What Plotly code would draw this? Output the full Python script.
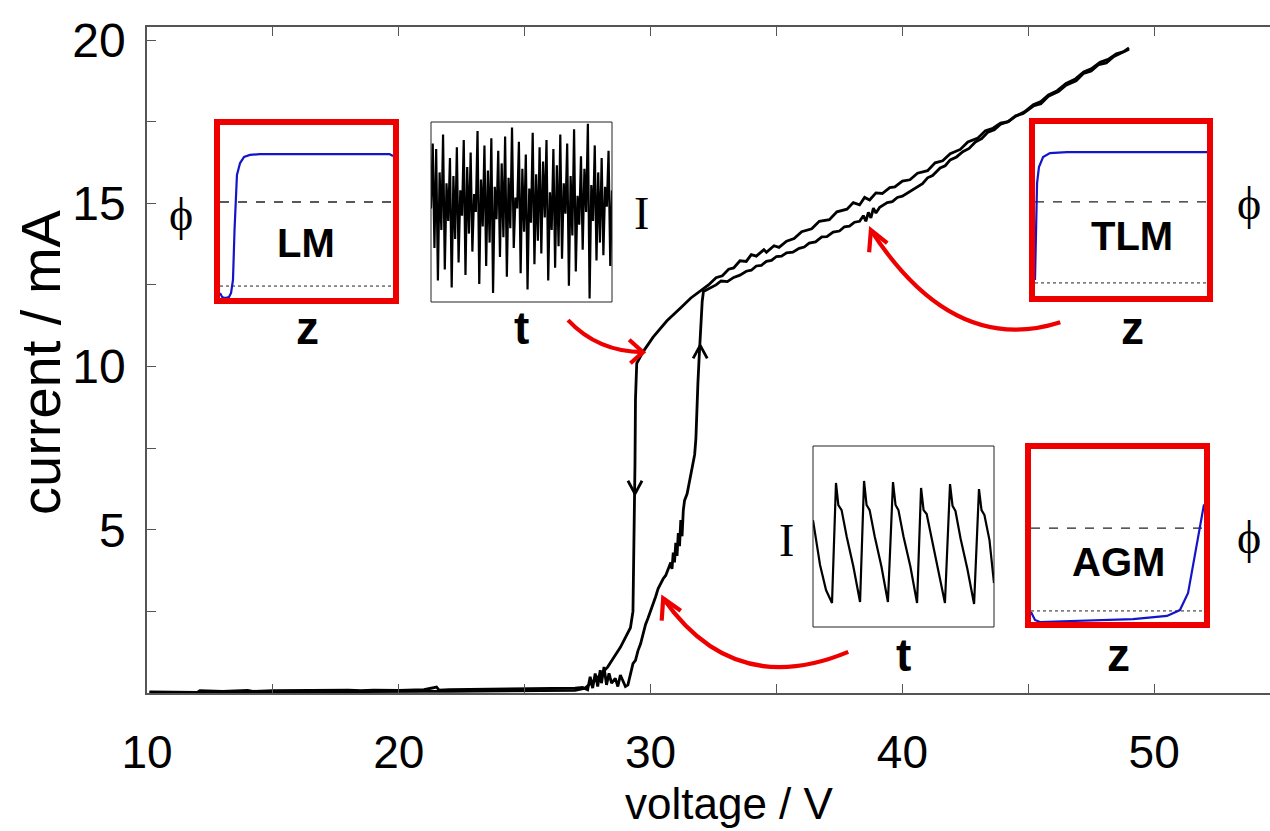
import plotly.graph_objects as go

# ---------------- main I-V data (voltage / V, current / mA) ----------------
# up sweep (lower-right branch)
V_up = [10.1, 11.0, 12.0, 12.1, 13.0, 14.0, 14.2, 15.0, 16.0, 17.0, 18.0, 18.5, 19.0, 20.0,
        21.0, 21.5, 21.6, 22.0, 23.0, 24.0, 25.0, 26.0, 27.0, 27.3,
        27.5, 27.6, 27.7, 27.8, 27.9, 28.0, 28.05, 28.15, 28.25, 28.35, 28.45, 28.6, 28.7,
        28.8, 28.9, 29.0, 29.1, 29.2, 29.3, 29.4, 29.5, 29.6, 29.7, 29.8, 29.9, 30.0,
        30.1, 30.2, 30.3, 30.4, 30.5, 30.6, 30.7, 30.8, 30.85, 30.9, 30.95, 31.0, 31.05,
        31.1, 31.15, 31.2, 31.25, 31.3, 31.35, 31.45, 31.55, 31.65, 31.75, 31.8, 31.83,
        31.88, 31.93, 31.97, 32.0, 32.05, 32.1,
        32.4, 32.6, 32.8, 33.05, 33.3, 33.55, 33.8, 34.0, 34.2, 34.4, 34.6, 34.8, 35.0, 35.2,
        35.4, 35.65, 35.9, 36.1, 36.3, 36.55, 36.8, 37.0, 37.25, 37.5, 37.7, 37.9, 38.1, 38.3,
        38.45, 38.55, 38.65, 38.75, 38.85, 38.95, 39.1, 39.4, 39.6, 39.8, 40.0, 40.2, 40.4,
        40.6, 40.8, 41.0, 41.2, 41.5, 41.7, 41.9, 42.15, 42.4, 42.65, 42.9, 43.15, 43.4, 43.65,
        43.9, 44.2, 44.5, 44.85, 45.2, 45.5, 45.8, 46.15, 46.5, 46.85, 47.2, 47.5, 47.85, 48.2,
        48.5, 48.8, 49.0]
I_up = [0.03, 0.03, 0.02, 0.07, 0.05, 0.08, 0.05, 0.07, 0.08, 0.07, 0.09, 0.07, 0.09, 0.08,
        0.1, 0.18, 0.09, 0.1, 0.11, 0.11, 0.12, 0.13, 0.15, 0.17,
        0.1, 0.5, 0.15, 0.6, 0.2, 0.7, 0.3, 0.8, 0.25, 0.6, 0.3, 0.45, 0.2,
        0.55, 0.35, 0.2, 0.25, 0.6, 0.9, 1.0, 1.3, 1.5, 1.8, 2.1, 2.3, 2.5,
        2.7, 2.95, 3.2, 3.35, 3.5, 3.6, 3.8, 4.0, 3.8, 4.3, 4.0, 4.6, 4.2,
        4.9, 4.5, 5.3, 4.8, 5.6, 5.9, 6.1, 6.5, 6.9, 7.3, 7.8, 8.6,
        9.5, 10.3, 10.9, 11.4, 12.0, 12.3,
        12.42, 12.5, 12.62, 12.6, 12.73, 12.8, 12.92, 12.95, 13.08, 13.1, 13.22, 13.25, 13.37, 13.38,
        13.48, 13.5, 13.62, 13.66, 13.78, 13.82, 13.97, 13.98, 14.12, 14.15, 14.28, 14.3, 14.42, 14.45,
        14.62, 14.45, 14.72, 14.55, 14.85, 14.7, 14.88, 15.02, 15.05, 15.18, 15.22, 15.32, 15.4,
        15.52, 15.6, 15.78, 15.85, 16.08, 16.15, 16.33, 16.42, 16.58, 16.68, 16.88, 16.98, 17.18, 17.25,
        17.42, 17.5, 17.67, 17.8, 18.02, 18.12, 18.32, 18.45, 18.67, 18.8, 19.02, 19.12, 19.32, 19.42,
        19.58, 19.65, 19.76]

# down sweep (upper-left branch)
V_down = [49.0, 48.7, 48.4, 48.1, 47.8, 47.5, 47.2, 46.9, 46.5, 46.2, 45.8, 45.5, 45.2, 44.8,
          44.5, 44.2, 43.9, 43.6, 43.3, 43.0, 42.6, 42.3, 41.9, 41.6, 41.3, 41.0, 40.6, 40.3,
          40.0, 39.7, 39.5, 39.2, 38.95, 38.7, 38.5, 38.3, 38.05, 37.8, 37.4, 37.1, 36.7, 36.4,
          36.0, 35.7, 35.4, 35.1, 34.9, 34.6, 34.5, 34.2, 34.0, 33.8, 33.55, 33.3, 33.1, 32.85,
          32.6, 32.3, 32.05, 31.6, 31.2, 30.65, 30.1, 29.7, 29.45, 29.4, 29.38,
          29.35, 29.33, 29.3, 29.2, 29.0, 28.8, 28.55, 28.3, 28.0, 27.7, 27.4, 27.0,
          26.0, 25.0, 24.0, 23.0, 22.0, 21.0, 20.0, 19.0, 18.0, 17.0, 16.0, 15.0, 14.0,
          13.0, 12.0, 11.0, 10.1]
I_down = [19.72, 19.6, 19.5, 19.3, 19.25, 19.05, 18.98, 18.75, 18.62, 18.42, 18.28, 18.05, 17.98, 17.75,
          17.68, 17.5, 17.46, 17.3, 17.22, 17.0, 16.88, 16.65, 16.52, 16.3, 16.24, 16.0, 15.92, 15.72,
          15.68, 15.5, 15.48, 15.3, 15.32, 15.1, 15.18, 14.95, 15.02, 14.82, 14.74, 14.5, 14.45, 14.22,
          14.13, 13.92, 13.84, 13.65, 13.7, 13.5, 13.58, 13.38, 13.43, 13.22, 13.24, 13.02, 12.98, 12.78,
          12.72, 12.5, 12.35, 12.1, 11.8, 11.4, 10.9, 10.45, 10.1, 9.0, 7.0,
          5.0, 3.0, 2.5, 2.0, 1.7, 1.4, 1.1, 0.8, 0.55, 0.35, 0.15, 0.08,
          0.07, 0.07, 0.06, 0.06, 0.05, 0.05, 0.05, 0.04, 0.04, 0.04, 0.03, 0.03, 0.03,
          0.02, 0.02, 0.02, 0.02]

# direction chevrons on the hysteresis branches (data coords)
down_chevron_V = [29.1, 29.38, 29.66]
down_chevron_I = [6.5, 6.1, 6.5]
up_chevron_V = [31.69, 31.97, 32.25]
up_chevron_I = [10.25, 10.65, 10.25]

# red pointer arrows: start, control, tip and head arm ends (data coords)
red_arrows = [
    dict(start=(26.72, 11.42), ctrl=(27.9, 10.45), tip=(29.7, 10.44), arm1=(29.15, 10.82), arm2=(29.2, 10.1)),
    dict(start=(46.27, 11.36), ctrl=(42.0, 10.3), tip=(38.75, 14.18), arm1=(38.68, 13.5), arm2=(39.4, 13.78)),
    dict(start=(37.85, 1.26), ctrl=(33.3, -0.2), tip=(30.5, 2.9), arm1=(30.44, 2.22), arm2=(31.2, 2.52)),
]

# ---------------- inset data (normalised inset units) ----------------
LM_z = [0.0, 0.012, 0.029, 0.052, 0.064, 0.075, 0.084, 0.09, 0.098, 0.116, 0.139, 0.173, 0.231, 0.462, 0.98, 1.0]
LM_phi = [0.029, 0.006, 0.0, 0.006, 0.029, 0.104, 0.393, 0.566, 0.711, 0.78, 0.815, 0.827, 0.832, 0.832, 0.832, 0.82]
LM_dash, LM_dot = 0.555, 0.069

TLM_z = [0.0, 0.006, 0.012, 0.023, 0.047, 0.087, 0.186, 1.0]
TLM_phi = [0.093, 0.366, 0.657, 0.75, 0.808, 0.831, 0.837, 0.837]
TLM_dash, TLM_dot = 0.547, 0.076

AGM_z = [0.0, 0.023, 0.052, 0.208, 0.59, 0.786, 0.861, 0.908, 0.948, 0.977, 1.0]
AGM_phi = [0.058, 0.012, 0.0, 0.006, 0.017, 0.035, 0.069, 0.168, 0.4, 0.55, 0.68]
AGM_dash, AGM_dot = 0.543, 0.064

chaotic_I = [0.52, 0.88, 0.30, 0.85, 0.12, 0.72, 0.40, 0.93, 0.18, 0.66, 0.45, 0.80, 0.08, 0.70,
             0.35, 0.86, 0.22, 0.62, 0.48, 0.90, 0.15, 0.75, 0.38, 0.83, 0.28, 0.60, 0.50, 0.95,
             0.10, 0.68, 0.42, 0.87, 0.20, 0.73, 0.33, 0.91, 0.05, 0.64, 0.46, 0.84, 0.25, 0.77,
             0.36, 0.92, 0.14, 0.69, 0.41, 0.97, 0.30, 0.58, 0.52, 0.89, 0.16, 0.74, 0.39, 0.82,
             0.07, 0.63, 0.44, 0.94, 0.21, 0.71, 0.34, 0.86, 0.27, 0.78, 0.47, 0.90, 0.12, 0.61,
             0.40, 0.85, 0.19, 0.76, 0.31, 0.93, 0.24, 0.66, 0.49, 0.88, 0.09, 0.70, 0.37, 0.96,
             0.17, 0.59, 0.43, 0.81, 0.29, 0.74, 0.50, 0.99, 0.02, 0.65, 0.45, 0.87, 0.23, 0.72,
             0.33, 0.80, 0.26, 0.64, 0.53, 0.84, 0.20, 0.62]
chaotic_t = list(range(len(chaotic_I)))

periodic_t = [0.0, 0.039, 0.072, 0.105, 0.127, 0.14, 0.158, 0.186, 0.223, 0.26, 0.282, 0.296, 0.313,
              0.341, 0.378, 0.414, 0.442, 0.456, 0.472, 0.5, 0.538, 0.575, 0.597, 0.611, 0.628,
              0.656, 0.693, 0.729, 0.757, 0.771, 0.787, 0.815, 0.853, 0.89, 0.917, 0.931, 0.947,
              0.975, 1.0]
periodic_I = [0.59, 0.343, 0.204, 0.133, 0.796, 0.674, 0.646, 0.5, 0.334, 0.138, 0.807, 0.674, 0.646,
              0.5, 0.334, 0.138, 0.801, 0.674, 0.646, 0.5, 0.334, 0.133, 0.768, 0.646, 0.624,
              0.49, 0.32, 0.133, 0.79, 0.669, 0.641, 0.49, 0.32, 0.127, 0.762, 0.646, 0.619,
              0.48, 0.243]

# ---------------- layout geometry (pixels) ----------------
W, H = 1270, 831
L, R, T, B = 147, 1270, 27, 693


def px(x):
    return (x - L) / (R - L)


def py(y):
    return (B - y) / (B - T)


fig = go.Figure()

BLACK = "#000000"
RED = "#ee0000"
BLUE = "#1414c8"

for xs, ys in ((V_up, I_up), (V_down, I_down)):
    fig.add_trace(go.Scatter(x=xs, y=ys, mode="lines", line=dict(color=BLACK, width=2.8),
                             showlegend=False, hoverinfo="skip"))
for xs, ys in ((down_chevron_V, down_chevron_I), (up_chevron_V, up_chevron_I)):
    fig.add_trace(go.Scatter(x=xs, y=ys, mode="lines", line=dict(color=BLACK, width=2.8),
                             showlegend=False, hoverinfo="skip"))

shapes = []
for a in red_arrows:
    (x0, y0), (cx, cy), (x1, y1) = a["start"], a["ctrl"], a["tip"]
    shapes.append(dict(type="path", xref="x", yref="y",
                       path=f"M {x0},{y0} Q {cx},{cy} {x1},{y1}",
                       line=dict(color=RED, width=4.2)))
    (ax1, ay1), (ax2, ay2) = a["arm1"], a["arm2"]
    shapes.append(dict(type="path", xref="x", yref="y",
                       path=f"M {ax1},{ay1} L {x1},{y1} L {ax2},{ay2}",
                       line=dict(color=RED, width=4.2)))

# inset inner plotting regions in pixel coordinates (x0, x1, y0, y1)
insets = {
    "LM": (220, 393, 125, 298),
    "TLM": (1035, 1207, 124, 296),
    "AGM": (1031, 1204, 449, 622),
    "CH": (431, 612, 122, 302),
    "PER": (813, 994, 446, 627),
}

axis_map = {}
for i, (name, (x0, x1, y0, y1)) in enumerate(insets.items(), start=2):
    axis_map[name] = i
    fig.layout[f"xaxis{i}"] = dict(domain=[px(x0), px(x1)], anchor=f"y{i}", visible=False,
                                   range=[0, 1] if name != "CH" else [0, len(chaotic_I) - 1],
                                   fixedrange=True)
    fig.layout[f"yaxis{i}"] = dict(domain=[py(y1), py(y0)], anchor=f"x{i}", visible=False,
                                   range=[0, 1], fixedrange=True)


def add_profile(name, z, phi, dash_level, dot_level):
    i = axis_map[name]
    fig.add_trace(go.Scatter(x=[0, 1], y=[dash_level, dash_level], mode="lines",
                             line=dict(color="#222222", width=1.3, dash="dash"),
                             xaxis=f"x{i}", yaxis=f"y{i}", showlegend=False, hoverinfo="skip"))
    fig.add_trace(go.Scatter(x=[0, 1], y=[dot_level, dot_level], mode="lines",
                             line=dict(color="#222222", width=1, dash="dot"),
                             xaxis=f"x{i}", yaxis=f"y{i}", showlegend=False, hoverinfo="skip"))
    fig.add_trace(go.Scatter(x=z, y=phi, mode="lines", line=dict(color=BLUE, width=2.2),
                             xaxis=f"x{i}", yaxis=f"y{i}", showlegend=False, hoverinfo="skip",
                             cliponaxis=False))
    x0, x1, y0, y1 = insets[name]
    shapes.append(dict(type="rect", xref="paper", yref="paper",
                       x0=px(x0 - 3), x1=px(x1 + 3), y0=py(y1 + 3), y1=py(y0 - 3),
                       line=dict(color=RED, width=6)))


add_profile("LM", LM_z, LM_phi, LM_dash, LM_dot)
add_profile("TLM", TLM_z, TLM_phi, TLM_dash, TLM_dot)
add_profile("AGM", AGM_z, AGM_phi, AGM_dash, AGM_dot)

i = axis_map["CH"]
fig.add_trace(go.Scatter(x=chaotic_t, y=chaotic_I, mode="lines", line=dict(color=BLACK, width=2.2),
                         xaxis=f"x{i}", yaxis=f"y{i}", showlegend=False, hoverinfo="skip"))
i = axis_map["PER"]
fig.add_trace(go.Scatter(x=periodic_t, y=periodic_I, mode="lines", line=dict(color=BLACK, width=2.2),
                         xaxis=f"x{i}", yaxis=f"y{i}", showlegend=False, hoverinfo="skip"))
for name in ("CH", "PER"):
    x0, x1, y0, y1 = insets[name]
    shapes.append(dict(type="rect", xref="paper", yref="paper",
                       x0=px(x0), x1=px(x1), y0=py(y1), y1=py(y0),
                       line=dict(color="#222222", width=1)))

SANS = "Liberation Sans, Arial, sans-serif"
SERIF = "Liberation Serif, DejaVu Serif, Times New Roman, serif"

# (text, x px, y px, family, size, bold, angle)
labels = [
    ("ϕ", 181, 215, SERIF, 46, False, 0), ("LM", 306, 243, SANS, 40, True, 0), ("z", 307, 328, SANS, 46, True, 0),
    ("I", 641, 213, SERIF, 46, False, 0), ("t", 521, 328, SANS, 46, True, 0),
    ("ϕ", 1249, 203, SERIF, 46, False, 0), ("TLM", 1132, 236, SANS, 40, True, 0), ("z", 1132, 328, SANS, 46, True, 0),
    ("I", 786, 540, SERIF, 46, False, 0), ("t", 904, 655, SANS, 46, True, 0),
    ("ϕ", 1249, 537, SERIF, 46, False, 0), ("AGM", 1118, 562, SANS, 40, True, 0), ("z", 1118, 655, SANS, 46, True, 0),
    ("voltage / V", 729, 803, SANS, 44, False, 0),
    ("current / mA", 40, 362, SANS, 56, False, -90),
]
annotations = []
for text, x, y, fam, size, bold, ang in labels:
    annotations.append(dict(text=f"<b>{text}</b>" if bold else text, x=px(x), y=py(y),
                            xref="paper", yref="paper", showarrow=False, textangle=ang,
                            xanchor="center", yanchor="middle",
                            font=dict(family=fam, size=size, color="black")))

x_tickvals = [10, 15, 20, 25, 30, 35, 40, 45, 50]
x_ticktext = ["10", "", "20", "", "30", "", "40", "", "50"]
y_tickvals = [2.5, 5, 7.5, 10, 12.5, 15, 17.5, 20]
y_ticktext = ["", "5", "", "10", "", "15", "", "20"]

fig.update_layout(
    width=W, height=H,
    margin=dict(l=L, r=W - R, t=T, b=H - B, pad=0),
    paper_bgcolor="white", plot_bgcolor="white",
    shapes=shapes, annotations=annotations,
    xaxis=dict(range=[10, 54.6], tickvals=x_tickvals, ticktext=x_ticktext,
               ticks="inside", ticklen=9, tickwidth=1.2, tickcolor="#555555",
               showline=True, linecolor="#555555", linewidth=1.5, mirror="ticks",
               showgrid=False, zeroline=False, ticklabelstandoff=18,
               tickfont=dict(family=SANS, size=46, color="black")),
    yaxis=dict(range=[0, 20.4], tickvals=y_tickvals, ticktext=y_ticktext,
               ticks="inside", ticklen=9, tickwidth=1.2, tickcolor="#555555",
               showline=True, linecolor="#555555", linewidth=1.5,
               showgrid=False, zeroline=False, ticklabelstandoff=10,
               tickfont=dict(family=SANS, size=48, color="black")),
)

fig.write_html("out.html")
